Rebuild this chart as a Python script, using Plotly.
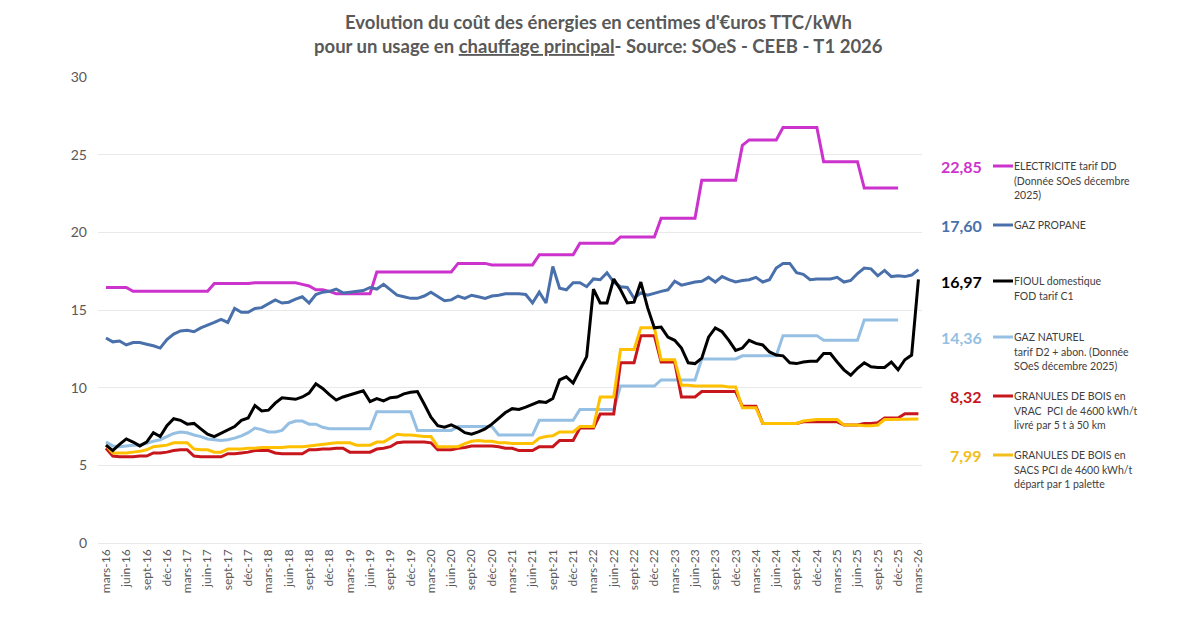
import plotly.graph_objects as go

# ---------------- data ----------------
MONTH_NAMES = ["mars", "avr", "mai", "juin", "juil", "août", "sept", "oct", "nov", "déc", "janv", "févr"]
START_YEAR = 16
N_MONTHS = 121
months = []
for k in range(N_MONTHS):
    name = MONTH_NAMES[k % 12]
    yy = START_YEAR + (k + 2) // 12
    months.append(f"{name}-{yy}")
tick_idx = list(range(0, N_MONTHS, 3))
tick_labels = [months[k] for k in tick_idx]

electricite = ([16.45] * 4 + [16.2] * 12 + [16.7] * 6 + [16.75] * 6 +
               [16.75, 16.65, 16.55, 16.3, 16.3, 16.2] + [16.05] * 6 +
               [17.45] * 12 + [18.0] * 5 + [17.9] * 7 + [18.55] * 6 +
               [19.3] * 6 + [19.7] * 6 + [20.9] * 6 + [23.35] * 6 +
               [25.6] + [25.95] * 5 + [26.75] * 6 + [24.55] * 6 + [22.85] * 6 +
               [None] * 3)

propane = [13.2, 12.95, 13.0, 12.75, 12.9, 12.9, 12.8, 12.7, 12.55, 13.1,
           13.45, 13.65, 13.7, 13.6, 13.85, 14.0, 14.2, 14.4, 14.2, 15.1,
           14.85, 14.85, 15.1, 15.15, 15.4, 15.65, 15.45, 15.5, 15.7, 15.85,
           15.45, 16.0, 16.15, 16.2, 16.35, 16.1, 16.15, 16.2, 16.25, 16.45,
           16.35, 16.65, 16.3, 15.95, 15.85, 15.75, 15.75, 15.9, 16.15, 15.9,
           15.6, 15.65, 15.9, 15.75, 15.95, 15.85, 15.75, 15.9, 15.95, 16.05,
           16.05, 16.05, 16.0, 15.45, 16.15, 15.45, 17.8, 16.4, 16.3, 16.75,
           16.75, 16.5, 17.0, 16.95, 17.4, 16.8, 16.5, 16.45, 15.75, 16.1,
           15.95, 16.1, 16.2, 16.3, 16.85, 16.6, 16.7, 16.8, 16.85, 17.1,
           16.8, 17.15, 16.95, 16.8, 16.9, 16.95, 17.1, 16.8, 16.95, 17.7,
           18.0, 18.0, 17.4, 17.3, 16.95, 17.0, 17.0, 17.0, 17.1, 16.8,
           16.9, 17.35, 17.7, 17.65, 17.2, 17.55, 17.15, 17.2, 17.15, 17.25,
           17.6]

fioul = [6.3, 5.95, 6.35, 6.7, 6.5, 6.25, 6.5, 7.1, 6.85, 7.55,
         8.0, 7.9, 7.65, 7.7, 7.35, 7.0, 6.85, 7.05, 7.3, 7.5,
         7.9, 8.05, 8.85, 8.5, 8.55, 9.0, 9.35, 9.3, 9.25, 9.4,
         9.65, 10.25, 9.95, 9.55, 9.2, 9.4, 9.55, 9.7, 9.8, 9.1,
         9.3, 9.15, 9.35, 9.4, 9.6, 9.7, 9.75, 8.95, 8.1, 7.55,
         7.45, 7.6, 7.4, 7.1, 7.0, 7.15, 7.35, 7.65, 8.0, 8.4,
         8.65, 8.6, 8.75, 8.95, 9.1, 9.05, 9.3, 10.5, 10.7, 10.3,
         11.1, 12.0, 16.35, 15.45, 15.45, 17.0, 16.3, 15.45, 15.5, 16.8,
         15.15, 13.85, 13.9, 13.25, 13.05, 12.55, 11.6, 11.55, 11.9, 13.25,
         13.85, 13.6, 13.05, 12.4, 12.55, 13.05, 12.85, 12.75, 12.3, 12.1,
         12.05, 11.6, 11.55, 11.65, 11.7, 11.7, 12.2, 12.2, 11.65, 11.15,
         10.8, 11.25, 11.6, 11.35, 11.3, 11.3, 11.65, 11.15, 11.8, 12.1,
         16.97]

gaz_naturel = ([6.5, 6.25, 6.2, 6.25, 6.3, 6.3, 6.45, 6.55, 6.65, 6.85,
                7.05, 7.15, 7.1, 6.95, 6.85, 6.7, 6.65, 6.6, 6.65, 6.75,
                6.9, 7.1, 7.4, 7.3, 7.15, 7.15, 7.25, 7.7, 7.85, 7.85,
                7.65, 7.65, 7.45] + [7.35] * 7 +
               [8.45] * 6 + [7.25] * 6 + [7.5] * 6 + [6.95] * 6 +
               [7.9] * 6 + [8.6] * 6 + [10.1] * 6 + [10.5] * 6 +
               [11.85] * 6 + [12.05] * 6 + [13.35] * 6 + [13.05] * 6 +
               [14.36] * 6 + [None] * 3)

granules_vrac = [6.1, 5.6, 5.55, 5.55, 5.55, 5.6, 5.6, 5.8, 5.8, 5.85,
                 5.95, 6.0, 6.0, 5.6, 5.55, 5.55, 5.55, 5.55, 5.75, 5.75,
                 5.8, 5.85, 5.95, 5.95, 5.95, 5.8, 5.75, 5.75, 5.75, 5.75,
                 6.0, 6.0, 6.05, 6.05, 6.1, 6.1, 5.85, 5.85, 5.85, 5.85,
                 6.05, 6.1, 6.2, 6.45, 6.5, 6.5, 6.5, 6.5, 6.45, 6.0,
                 6.0, 6.0, 6.1, 6.15, 6.25, 6.25, 6.25, 6.25, 6.2, 6.1,
                 6.1, 5.95, 5.95, 5.95, 6.2, 6.2, 6.2, 6.6, 6.6, 6.6,
                 7.4, 7.4, 7.4, 8.3, 8.3, 8.3, 11.6, 11.6, 11.6, 13.35,
                 13.35, 13.35, 11.65, 11.65, 11.65, 9.4, 9.4, 9.4, 9.75, 9.75,
                 9.75, 9.75, 9.75, 9.75, 8.8, 8.8, 8.8, 7.7, 7.7, 7.7,
                 7.7, 7.7, 7.7, 7.8, 7.8, 7.8, 7.8, 7.8, 7.8, 7.6,
                 7.6, 7.6, 7.7, 7.7, 7.75, 8.05, 8.05, 8.05, 8.32, 8.32,
                 8.32]

granules_sacs = [6.3, 5.8, 5.8, 5.8, 5.85, 5.9, 6.0, 6.2, 6.25, 6.3,
                 6.45, 6.45, 6.45, 6.05, 6.0, 6.0, 5.85, 5.85, 6.05, 6.05,
                 6.05, 6.1, 6.1, 6.15, 6.15, 6.15, 6.15, 6.2, 6.2, 6.2,
                 6.25, 6.3, 6.35, 6.4, 6.45, 6.45, 6.45, 6.3, 6.3, 6.3,
                 6.5, 6.5, 6.75, 7.0, 6.95, 6.95, 6.9, 6.85, 6.85, 6.2,
                 6.2, 6.2, 6.2, 6.4, 6.55, 6.6, 6.55, 6.55, 6.45, 6.45,
                 6.4, 6.4, 6.4, 6.4, 6.75, 6.85, 6.9, 7.15, 7.15, 7.15,
                 7.5, 7.5, 7.5, 9.4, 9.4, 9.4, 12.45, 12.45, 12.45, 13.85,
                 13.85, 13.85, 11.8, 11.8, 11.8, 10.15, 10.15, 10.1, 10.1, 10.1,
                 10.1, 10.1, 10.05, 10.05, 8.7, 8.7, 8.7, 7.7, 7.7, 7.7,
                 7.7, 7.7, 7.7, 7.85, 7.9, 7.95, 7.95, 7.95, 7.95, 7.6,
                 7.6, 7.6, 7.55, 7.55, 7.6, 7.95, 7.95, 7.95, 7.99, 7.99,
                 7.99]

series_names = ["ELECTRICITE", "GAZ PROPANE", "GAZ NATUREL", "GRANULES VRAC", "GRANULES SACS", "FIOUL"]
series_values = [electricite, propane, gaz_naturel, granules_vrac, granules_sacs, fioul]
series_colors = ["#CC33CC", "#4A70AC", "#95BFE3", "#C8161D", "#FFC000", "#000000"]

# right-hand labels
label_values = ["22,85", "17,60", "16,97", "14,36", "8,32", "7,99"]
label_colors = ["#CC33CC", "#4A70AC", "#000000", "#95BFE3", "#C8161D", "#F2BE1A"]
label_texts = [
    ["ELECTRICITE tarif DD", "(Donnée SOeS décembre", "2025)"],
    ["GAZ PROPANE"],
    ["FIOUL domestique", "FOD tarif C1"],
    ["GAZ NATUREL", "tarif D2 + abon. (Donnée", "SOeS décembre 2025)"],
    ["GRANULES DE BOIS en", "VRAC  PCI de 4600 kWh/t", "livré par 5 t à 50 km"],
    ["GRANULES DE BOIS en", "SACS PCI de 4600 kWh/t", "départ par 1 palette"],
]
label_rows_px = [166, 225, 281, 337, 396, 455]

title_lines = ["Evolution du coût des énergies en centimes d'€uros TTC/kWh",
               "pour un usage en <u>chauffage principal</u>- Source: SOeS - CEEB - T1 2026"]
title_rows_px = [22, 46]

# ---------------- figure ----------------
W, H = 1200, 627
PL, PR, PT, PB = 98, 922, 77, 543
LINE_STEP = 14.6

fig = go.Figure()
x = list(range(N_MONTHS))
for name, vals, col in zip(series_names, series_values, series_colors):
    fig.add_trace(go.Scatter(x=x, y=vals, mode="lines", name=name,
                             line=dict(color=col, width=3), connectgaps=False,
                             showlegend=False))

def px2x(px):
    return (px - PL) / (PR - PL)

def px2y(py):
    return (PB - py) / (PB - PT)

FONT = "Lato"
for line, row in zip(title_lines, title_rows_px):
    fig.add_annotation(xref="paper", yref="paper", x=px2x(598), y=px2y(row),
                       text=f"<b>{line}</b>", showarrow=False, xanchor="center",
                       yanchor="middle", font=dict(family=FONT, size=18.5, color="#595959"))

for val, col, lines, row in zip(label_values, label_colors, label_texts, label_rows_px):
    fig.add_annotation(xref="paper", yref="paper", x=px2x(984), y=px2y(row),
                       text=f"<b>{val}</b>", showarrow=False, xanchor="right",
                       yanchor="middle", font=dict(family=FONT, size=16, color=col))
    for j, ln in enumerate(lines):
        fig.add_annotation(xref="paper", yref="paper", x=px2x(1012),
                           y=px2y(row + j * LINE_STEP), text=ln, showarrow=False,
                           xanchor="left", yanchor="middle", align="left",
                           font=dict(family=FONT, size=10.5, color="#404040"))
    fig.add_shape(type="line", xref="paper", yref="paper",
                  x0=px2x(993), x1=px2x(1013), y0=px2y(row), y1=px2y(row),
                  line=dict(color=col, width=3))

fig.update_layout(
    width=W, height=H,
    margin=dict(l=PL, r=W - PR, t=PT, b=H - PB),
    paper_bgcolor="white", plot_bgcolor="white",
    xaxis=dict(range=[-1.18, 120.53], tickmode="array", tickvals=tick_idx,
               ticktext=tick_labels, tickangle=-90, showgrid=False, zeroline=False,
               showline=False, ticks="", ticklabelstandoff=3,
               tickfont=dict(family=FONT, size=12, color="#595959")),
    yaxis=dict(range=[0, 30], dtick=5, tick0=0, showgrid=True, gridcolor="#E9E9E9",
               gridwidth=1, zeroline=True, zerolinecolor="#E9E9E9", zerolinewidth=1,
               showline=False, ticks="", ticklabelstandoff=10,
               tickfont=dict(family=FONT, size=14, color="#595959")),
)

fig.write_html("out.html")
